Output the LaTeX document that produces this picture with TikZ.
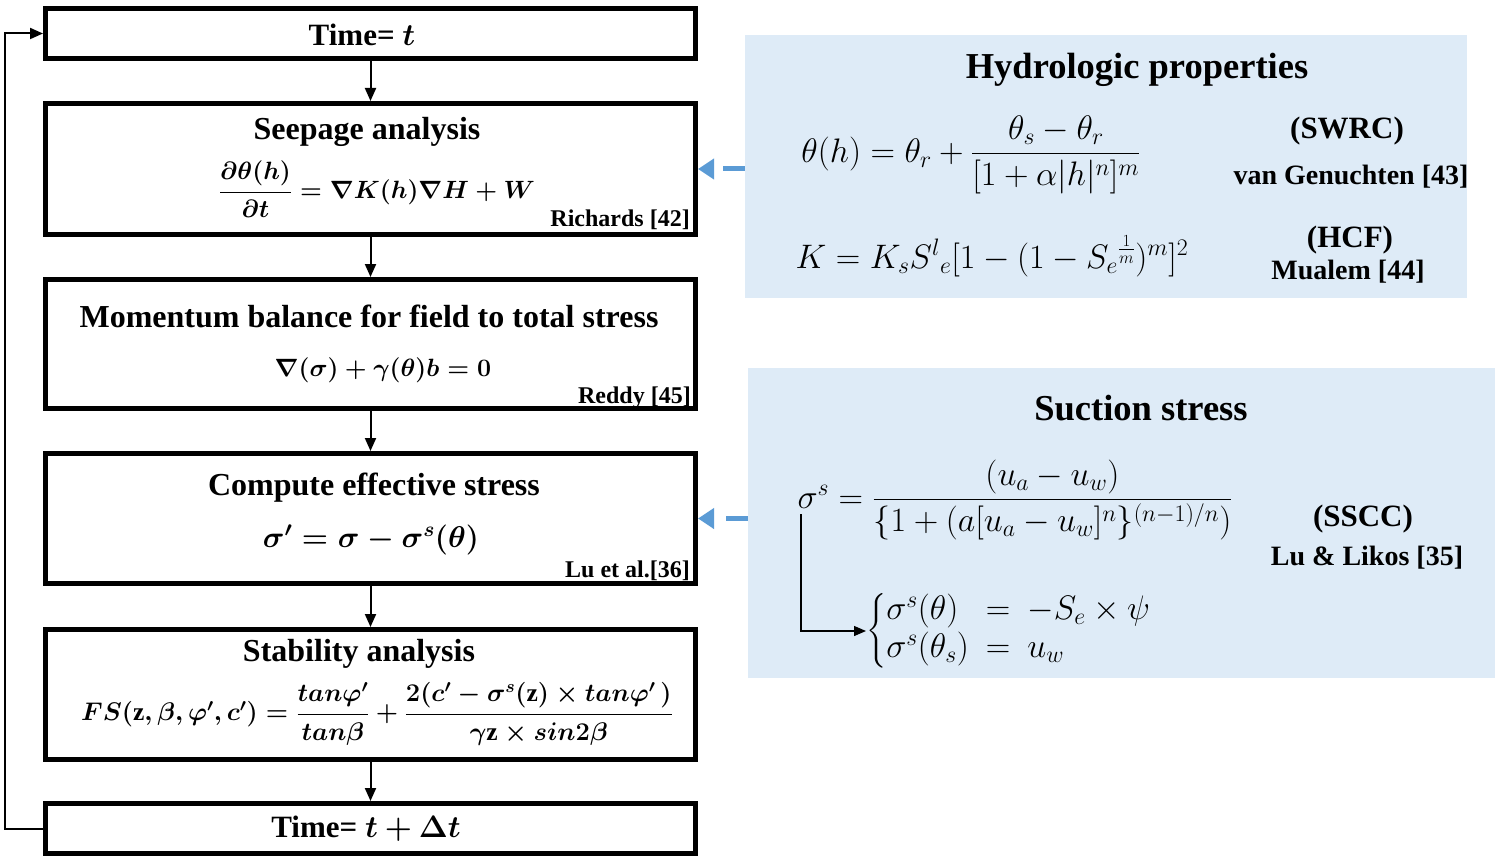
\RequirePackage{fix-cm}
\documentclass[tikz,border=0pt]{standalone}
\usepackage{amsmath,bm}
\usepackage{fontspec}
\setmainfont{Liberation Serif}
\usetikzlibrary{arrows.meta}
\definecolor{panelblue}{HTML}{DEEBF7}
\definecolor{arrowblue}{HTML}{5B9BD5}
\begin{document}
\begin{tikzpicture}[x=1pt,y=-1pt,
  flowbox/.style={draw, line width=5pt, minimum width=650pt, inner sep=0pt},
  panel/.style={fill=panelblue, inner sep=0pt},
  boxtitle/.style={font=\fontsize{32}{36}\selectfont\bfseries, inner sep=0pt},
  timetext/.style={font=\fontsize{31}{35}\selectfont\bfseries, inner sep=0pt},
  paneltitle/.style={font=\fontsize{36.5}{40}\selectfont\bfseries, inner sep=0pt},
  reftext/.style={font=\fontsize{24}{28}\selectfont\bfseries, anchor=base east, inner sep=0pt},
  sidetext/.style={font=\fontsize{28}{32}\selectfont\bfseries, inner sep=0pt},
  abbrtext/.style={font=\fontsize{31}{35}\selectfont\bfseries, inner sep=0pt},
  boldeq/.style={font=\fontsize{25}{30}\selectfont\boldmath, inner sep=0pt},
  plaineq/.style={font=\fontsize{34}{38}\selectfont, inner sep=0pt},
  flowarrow/.style={line width=2pt, -{Triangle[length=13pt,width=11pt]}},
  thinarrow/.style={line width=1.3pt, -{Triangle[length=12pt,width=10pt]}},
  bluearrow/.style={draw=arrowblue, line width=5pt, dash pattern=on 22pt off 200pt, -{Triangle[length=16pt,width=20pt]}}
]
\useasboundingbox (0,0) rectangle (1500,864);

% panels
\node[panel, minimum width=722pt, minimum height=263pt] (p1) at (1106,166.5) {};
\node[panel, minimum width=747pt, minimum height=310pt] (p2) at (1121.5,523) {};

% flow boxes
\node[flowbox, minimum height=50pt]  (b1) at (370.5,33.5) {};
\node[flowbox, minimum height=131pt] (b2) at (370.5,169) {};
\node[flowbox, minimum height=129pt] (b3) at (370.5,344) {};
\node[flowbox, minimum height=130pt] (b4) at (370.5,518.5) {};
\node[flowbox, minimum height=130pt] (b5) at (370.5,694.5) {};
\node[flowbox, minimum height=50pt]  (b6) at (370.5,828.5) {};

% box texts
\node[timetext] (t1) at (362,35) {Time= $\boldsymbol{t}$};
\node[boxtitle] (t2) at (367,132) {Seepage analysis};
\node[boldeq] (e2) at (377,189) {$\dfrac{\partial\theta(h)}{\partial t} = \nabla K(h)\nabla H + W$};
\node[reftext] (r2) at (690,226) {Richards [42]};
\node[boxtitle] (t3) at (369,316) {Momentum balance for field to total stress};
\node[boldeq] (e3) at (383,370) {$\nabla(\sigma) + \gamma(\theta)b = 0$};
\node[reftext] (r3) at (691,403) {Reddy [45]};
\node[boxtitle] (t4) at (374,488) {Compute effective stress};
\node[boldeq, font=\fontsize{30}{34}\selectfont\boldmath] (e4) at (371,540) {$\sigma' = \sigma - \sigma^{s}(\theta)$};
\node[reftext] (r4) at (690,577) {Lu et al.[36]};
\node[boxtitle] (t5) at (359,654) {Stability analysis};
\node[boldeq, font=\fontsize{25.5}{30}\selectfont\boldmath] (e5) at (377,714) {$FS(\mathrm{z},\beta,\varphi',c') = \dfrac{tan\varphi'}{tan\beta} + \dfrac{2(c' - \sigma^{s}(\mathrm{z})\times tan\varphi'\,)}{\gamma\mathrm{z}\times sin2\beta}$};
\node[timetext] (t6) at (366,829) {Time= $\boldsymbol{t + \Delta t}$};

% panel 1 texts
\node[paneltitle] (pt1) at (1137,70) {Hydrologic properties};
\node[plaineq] (pe1) at (971,155) {$\theta(h) = \theta_r + \dfrac{\theta_s - \theta_r}{[1+\alpha|h|^n]^m}$};
\node[abbrtext] (s1) at (1347,131) {(SWRC)};
\node[sidetext] (s2) at (1351,177) {van Genuchten [43]};
\node[plaineq] (pe2) at (992,256) {$K = K_s S^{l}{}_{e}[1-(1-S_e{}^{\frac{1}{m}})^m]^2$};
\node[abbrtext] (s3) at (1350,240) {(HCF)};
\node[sidetext] (s4) at (1348,272) {Mualem [44]};

% panel 2 texts
\node[paneltitle] (pt2) at (1141,408) {Suction stress};
\node[plaineq] (pe3) at (1015,500) {$\sigma^{s} = \dfrac{(u_a - u_w)}{\{1+(a[u_a-u_w]^n\}^{(n-1)/n})}$};
\node[abbrtext] (s5) at (1363,519) {(SSCC)};
\node[sidetext] (s6) at (1367,558) {Lu \& Likos [35]};
\node[plaineq, anchor=west] (pe4) at (866,631) {$\left\{\begin{array}{@{}l@{\ \ }c@{\ \ }l@{}} \sigma^{s}(\theta) & = & -S_e\times\psi \\ \sigma^{s}(\theta_s) & = & u_w \end{array}\right.$};
\coordinate (sg) at (801,514);

% connectors
\draw[flowarrow] (b1.south) -- (b2.north);
\draw[flowarrow] (b2.south) -- (b3.north);
\draw[flowarrow] (b3.south) -- (b4.north);
\draw[flowarrow] (b4.south) -- (b5.north);
\draw[flowarrow] (b5.south) -- (b6.north);
\draw[flowarrow] (b6.west) -- ++(-38,0) |- (b1.west);
\draw[bluearrow] (p1.west |- b2.east) -- (b2.east);
\draw[bluearrow] (p2.west |- b4.east) -- (b4.east);
\draw[thinarrow] (sg) |- (pe4.west);
\end{tikzpicture}
\end{document}
